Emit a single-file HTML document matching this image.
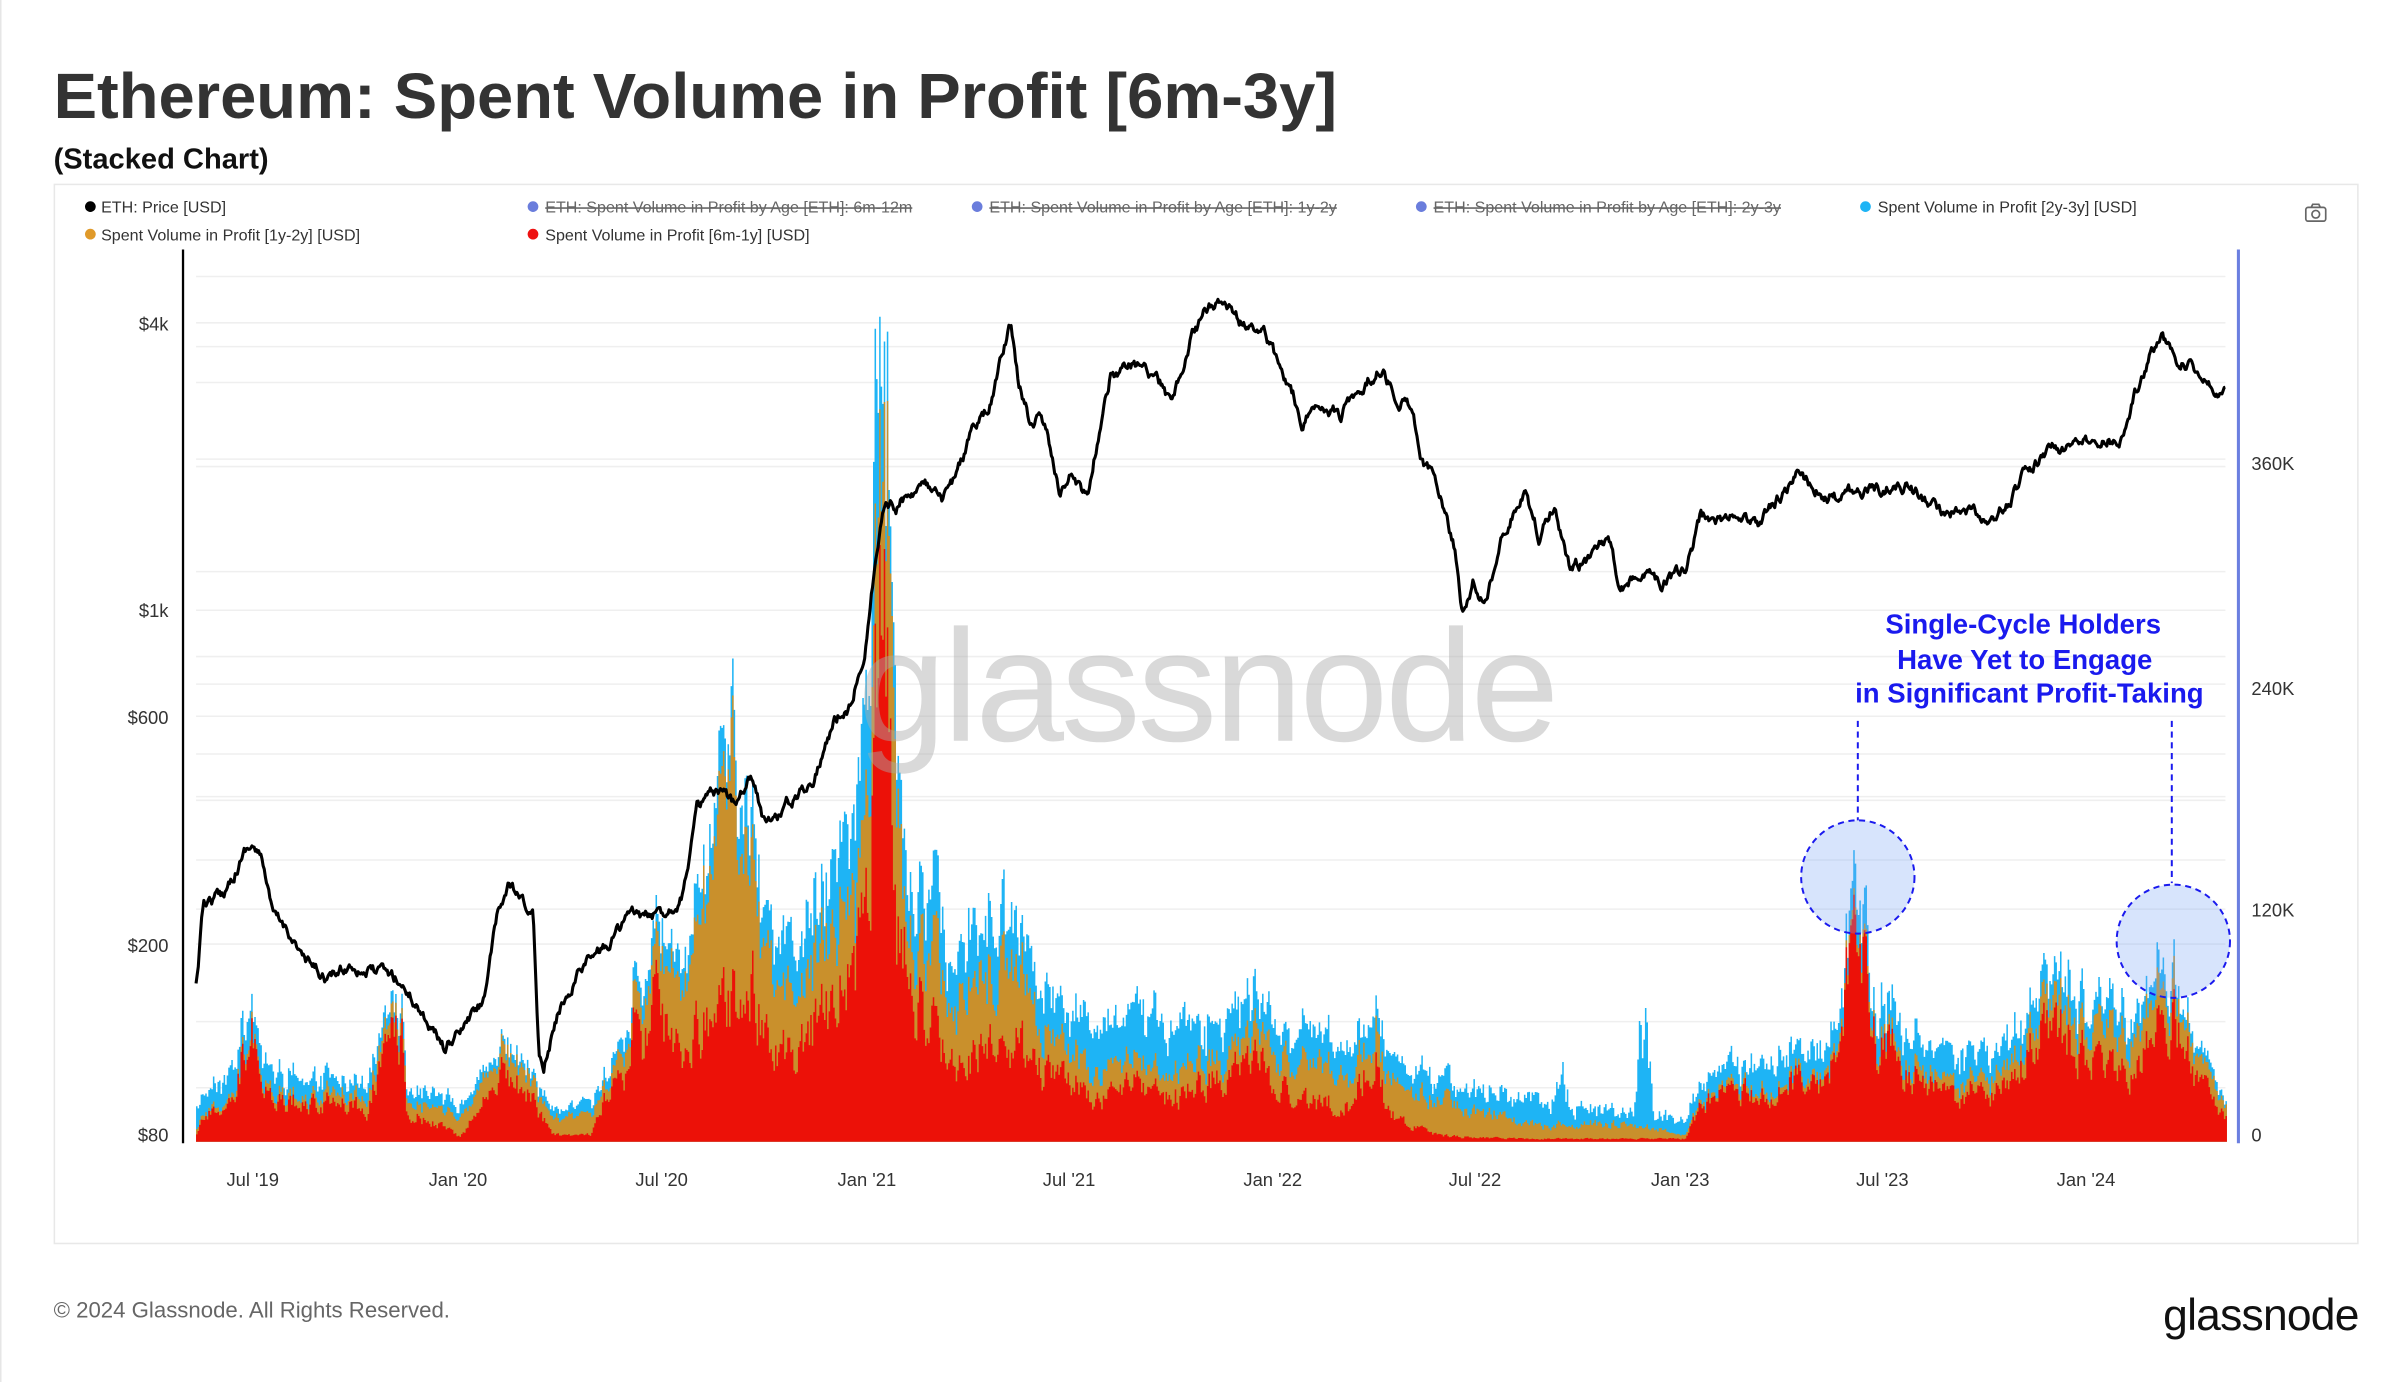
<!DOCTYPE html>
<html><head><meta charset="utf-8">
<style>
html,body{margin:0;padding:0;background:#fff;}
body{width:2400px;height:1382px;overflow:hidden;}
svg{display:block;}
text{font-family:"Liberation Sans",sans-serif;}
</style></head>
<body>
<svg id="s" width="2400" height="1382" viewBox="0 0 1567 903" preserveAspectRatio="none" xmlns="http://www.w3.org/2000/svg">
<rect x="0" y="0" width="1567" height="903" fill="#fff"/>
<line x1="0.5" y1="0" x2="0.5" y2="903" stroke="#e6e6e6"/>
<text x="35" y="77" font-size="42" font-weight="bold" fill="#333" textLength="838" lengthAdjust="spacingAndGlyphs">Ethereum: Spent Volume in Profit [6m-3y]</text>
<text x="35" y="110" font-size="19" font-weight="bold" fill="#111">(Stacked Chart)</text>
<rect x="35.5" y="120.5" width="1504" height="692" fill="#fff" stroke="#e8e8e8"/>
<g font-size="10.5" fill="#333">
<circle cx="59" cy="135" r="3.5" fill="#000"/><text x="66" y="139">ETH: Price [USD]</text>
<circle cx="348" cy="135" r="3.5" fill="#6a7ddc"/><text x="356" y="139" fill="#666" text-decoration="line-through">ETH: Spent Volume in Profit by Age [ETH]: 6m-12m</text>
<circle cx="638" cy="135" r="3.5" fill="#6a7ddc"/><text x="646" y="139" fill="#666" text-decoration="line-through">ETH: Spent Volume in Profit by Age [ETH]: 1y-2y</text>
<circle cx="928" cy="135" r="3.5" fill="#6a7ddc"/><text x="936" y="139" fill="#666" text-decoration="line-through">ETH: Spent Volume in Profit by Age [ETH]: 2y-3y</text>
<circle cx="1218" cy="135" r="3.5" fill="#1eb4f5"/><text x="1226" y="139">Spent Volume in Profit [2y-3y] [USD]</text>
<circle cx="59" cy="153" r="3.5" fill="#e09a2a"/><text x="66" y="157">Spent Volume in Profit [1y-2y] [USD]</text>
<circle cx="348" cy="153" r="3.5" fill="#ee1111"/><text x="356" y="157">Spent Volume in Profit [6m-1y] [USD]</text>
</g>
<g fill="none" stroke="#666" stroke-width="1.1"><rect x="1505.5" y="135.5" width="13" height="9" rx="1.5"/><circle cx="1512" cy="140" r="2.5"/><path d="M1509 135.5 l1-2 h4 l1 2"/></g>
<g id="grid" stroke="#efefef" stroke-width="1"></g>
<g id="vol"></g>
<text x="788" y="484" font-size="104" fill="#aaa" fill-opacity="0.45" text-anchor="middle" letter-spacing="-2">glassnode</text>
<path id="price" fill="none" stroke="#000" stroke-width="2" stroke-linejoin="round"></path>
<line x1="119.5" y1="163" x2="119.5" y2="747" stroke="#000" stroke-width="1.5"/>
<line x1="1461.5" y1="163" x2="1461.5" y2="747" stroke="#6b7fe0" stroke-width="2"/>
<g font-size="12" fill="#333" text-anchor="end">
<text x="110" y="216">$4k</text><text x="110" y="403">$1k</text><text x="110" y="473">$600</text><text x="110" y="622">$200</text><text x="110" y="746">$80</text>
</g>
<g font-size="12" fill="#333">
<text x="1470" y="307">360K</text><text x="1470" y="454">240K</text><text x="1470" y="599">120K</text><text x="1470" y="746">0</text>
</g>
<g font-size="12" fill="#333" text-anchor="middle">
<text x="165" y="775">Jul '19</text><text x="299" y="775">Jan '20</text><text x="432" y="775">Jul '20</text><text x="566" y="775">Jan '21</text><text x="698" y="775">Jul '21</text><text x="831" y="775">Jan '22</text><text x="963" y="775">Jul '22</text><text x="1097" y="775">Jan '23</text><text x="1229" y="775">Jul '23</text><text x="1362" y="775">Jan '24</text>
</g>
<g fill="#1a1aee" font-size="18" font-weight="bold" text-anchor="middle">
<text x="1321" y="414">Single-Cycle Holders</text>
<text x="1322" y="437">Have Yet to Engage</text>
<text x="1325" y="459">in Significant Profit-Taking</text>
</g>
<g stroke="#1a1aee" stroke-width="1.3" stroke-dasharray="4,3">
<line x1="1213" y1="471" x2="1213" y2="536"/>
<line x1="1418" y1="471" x2="1418" y2="577"/>
<circle cx="1213" cy="573" r="37" fill="#7ba4f5" fill-opacity="0.3"/>
<circle cx="1419" cy="615" r="37" fill="#7ba4f5" fill-opacity="0.3"/>
</g>
<text x="35" y="861" font-size="14.5" fill="#666">© 2024 Glassnode. All Rights Reserved.</text>
<text x="1540" y="869" font-size="29" fill="#111" text-anchor="end" letter-spacing="-0.5">glassnode</text>
</svg>
<script>
var NS="http://www.w3.org/2000/svg";
var seed=12345;function rnd(){seed=(seed*16807)%2147483647;return (seed-1)/2147483646;}
function interp(k,x){if(x<=k[0][0])return k[0][1];for(var i=1;i<k.length;i++){if(x<=k[i][0]){var a=k[i-1],b=k[i];return a[1]+(b[1]-a[1])*(x-a[0])/(b[0]-a[0]);}}return k[k.length-1][1];}
var g=document.getElementById('grid');
function yP(p){return 741-(Math.log10(p)-Math.log10(80))*312;}
[100,200,300,400,500,600,800,1000,2000,3000,4000,5000].forEach(function(p){var y=yP(p);var l=document.createElementNS(NS,'line');l.setAttribute('x1',128);l.setAttribute('x2',1453);l.setAttribute('y1',y);l.setAttribute('y2',y);g.appendChild(l);});
[60,120,180,240,300,360,420].forEach(function(v){var y=741-v/120*147;var l=document.createElementNS(NS,'line');l.setAttribute('x1',128);l.setAttribute('x2',1453);l.setAttribute('y1',y);l.setAttribute('y2',y);g.appendChild(l);});
var pk=[[128,645],[133,590],[145,585],[160,555],[165,552],[172,565],[178,600],[190,610],[200,630],[215,640],[230,630],[245,635],[260,640],[275,660],[290,685],[300,675],[315,655],[325,600],[332,578],[340,590],[348,600],[352,690],[355,695],[365,660],[380,630],[395,620],[410,598],[425,600],[435,595],[445,585],[455,530],[465,520],[478,525],[490,505],[500,540],[515,525],[530,510],[545,470],[555,460],[565,420],[570,380],[578,325],[585,330],[595,320],[605,318],[615,330],[625,310],[635,280],[645,270],[655,230],[660,212],[665,250],[672,275],[680,270],[692,320],[700,310],[710,325],[718,280],[725,245],[740,240],[755,245],[765,265],[778,220],[790,200],[795,195],[805,205],[815,215],[825,215],[835,240],[845,260],[850,285],[860,260],[875,270],[890,250],[900,240],[910,255],[920,265],[930,305],[940,320],[950,360],[955,400],[962,380],[970,395],[980,350],[995,320],[1005,350],[1015,330],[1025,370],[1040,365],[1050,350],[1058,385],[1070,375],[1085,380],[1100,375],[1110,340],[1125,340],[1135,335],[1148,345],[1160,325],[1175,310],[1185,320],[1200,325],[1215,320],[1230,320],[1240,315],[1255,325],[1270,335],[1285,335],[1300,340],[1310,330],[1325,305],[1340,295],[1355,290],[1370,290],[1385,285],[1395,255],[1405,230],[1412,218],[1420,235],[1430,238],[1440,245],[1453,255]];
var d='',n=0;
for(var x=128;x<=1453;x+=0.73){n=n*0.8+(rnd()-0.5)*6;var y=interp(pk,x)+n;d+=(d?'L':'M')+x.toFixed(2)+' '+y.toFixed(1);}
document.getElementById('price').setAttribute('d',d);
var rk=[[128,5],[135,20],[150,25],[158,60],[165,75],[170,35],[200,25],[215,30],[240,20],[252,75],[262,70],[265,20],[290,10],[300,3],[310,20],[330,50],[340,40],[360,5],[385,5],[395,30],[410,50],[415,95],[420,60],[428,100],[435,80],[445,50],[455,80],[470,90],[480,100],[490,110],[500,70],[520,60],[540,90],[555,110],[565,150],[570,250],[575,400],[580,300],[585,150],[595,100],[610,80],[625,50],[640,60],[660,70],[680,50],[700,40],[720,30],[740,40],[760,30],[780,35],[800,50],[815,60],[830,45],[850,30],[880,25],[898,60],[905,20],[935,5],[960,3],[1000,2],[1060,2],[1100,2],[1110,25],[1130,35],[1150,30],[1170,40],[1190,45],[1200,60],[1205,110],[1212,140],[1218,120],[1225,60],[1230,80],[1240,50],[1260,40],[1280,25],[1290,40],[1300,30],[1320,50],[1335,75],[1350,70],[1370,50],[1390,45],[1405,70],[1412,100],[1420,80],[1435,40],[1453,15]];
var ok=[[128,3],[200,5],[330,15],[400,10],[430,30],[460,70],[480,150],[490,120],[500,60],[520,40],[545,50],[560,40],[575,90],[580,160],[590,30],[610,50],[630,40],[660,60],[680,25],[700,20],[740,15],[800,15],[850,25],[900,20],[930,25],[960,20],[1000,10],[1060,10],[1100,3],[1200,5],[1300,10],[1340,20],[1400,25],[1453,10]];
var ck=[[128,15],[160,20],[250,10],[300,10],[330,5],[400,10],[480,30],[540,40],[566,80],[572,130],[578,50],[600,40],[640,40],[700,30],[760,40],[800,30],[900,20],[960,15],[1015,20],[1020,40],[1025,15],[1060,10],[1066,10],[1070,75],[1076,70],[1079,10],[1150,20],[1200,20],[1213,25],[1300,20],[1350,20],[1412,15],[1453,5]];
var B=746,nr=1,no=1,nc=1;
var rs=[],os=[],cs=[];
for(var x=128;x<=1453;x+=1){
 nr=nr*0.5+0.5*(0.5+rnd()*0.9);no=no*0.5+0.5*(0.45+rnd()*1.0);nc=nc*0.4+0.6*(0.35+rnd()*1.2);
 var r=interp(rk,x)*nr,o=r+interp(ok,x)*no,c=o+interp(ck,x)*nc*0.85;
 rs.push([x,B-r]);os.push([x,B-o]);cs.push([x,B-c]);
}
function area(a){var s='M'+a[0][0]+' '+B;a.forEach(function(p){s+='L'+p[0]+' '+p[1].toFixed(1)+'L'+(p[0]+1)+' '+p[1].toFixed(1);});s+='L'+(a[a.length-1][0]+1)+' '+B+'Z';return s;}
var v=document.getElementById('vol');
[[cs,'#1eb4f5'],[os,'#c9902c'],[rs,'#ec1108']].forEach(function(q){var p=document.createElementNS(NS,'path');p.setAttribute('d',area(q[0]));p.setAttribute('fill',q[1]);v.appendChild(p);});
</script>
</body></html>
